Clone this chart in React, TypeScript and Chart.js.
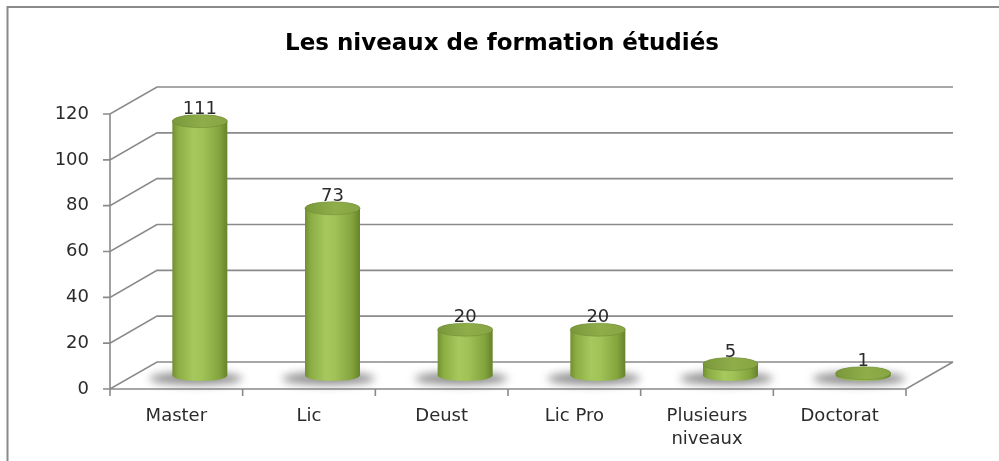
import React, { useEffect, useRef } from 'react';
import { Chart, registerables } from 'chart.js';

Chart.register(...registerables);

const TITLE = 'Les niveaux de formation étudiés';
const categories: (string | string[])[] = ['Master', 'Lic', 'Deust', 'Lic Pro', ['Plusieurs', 'niveaux'], 'Doctorat'];
const values: number[] = [111, 73, 20, 20, 5, 1];
const Y_MIN = 0;
const Y_MAX = 120;
const Y_STEP = 20;

const FONT = "'DejaVu Sans', sans-serif";
const LINE = '#8a8a8a';
const TEXT = '#2b2b2b';
const DX = 47;
const DY = -27;
const RADIUS = 27.5;
const RY_TOP = 6.5;
const RY_BOT = 5.5;

const excel3d = {
  id: 'excel3d',
  beforeDraw(chart: any) {
    const { ctx, width, height } = chart;
    ctx.save();
    ctx.fillStyle = '#ffffff';
    ctx.fillRect(0, 0, width, height);
    ctx.strokeStyle = '#8a8a8a';
    ctx.lineWidth = 2;
    ctx.beginPath();
    ctx.moveTo(7.5, height);
    ctx.lineTo(7.5, 7);
    ctx.lineTo(width, 7);
    ctx.stroke();
    ctx.fillStyle = '#000000';
    ctx.font = 'bold 23px ' + FONT;
    ctx.textAlign = 'center';
    ctx.textBaseline = 'alphabetic';
    ctx.fillText(TITLE, 502, 50);
    ctx.restore();
  },
  beforeDatasetsDraw(chart: any) {
    const { ctx } = chart;
    const xs = chart.scales.x;
    const ys = chart.scales.y;
    const left = xs.left;
    const right = xs.right;
    const bottom = ys.getPixelForValue(Y_MIN);
    const top = ys.getPixelForValue(Y_MAX);
    ctx.save();
    ctx.strokeStyle = LINE;
    ctx.lineWidth = 1.6;
    ctx.beginPath();
    ys.ticks.forEach((t: any) => {
      const py = ys.getPixelForValue(t.value);
      ctx.moveTo(left - 7, py);
      ctx.lineTo(left, py);
      ctx.lineTo(left + DX, py + DY);
      ctx.lineTo(right + DX, py + DY);
    });
    ctx.moveTo(left, top);
    ctx.lineTo(left, bottom);
    ctx.lineTo(right, bottom);
    ctx.lineTo(right + DX, bottom + DY);
    for (let i = 0; i <= categories.length; i++) {
      const px = xs.getPixelForValue(i - 0.5);
      ctx.moveTo(px, bottom);
      ctx.lineTo(px, bottom + 7);
    }
    ctx.stroke();
    ctx.restore();
  },
  afterDatasetsDraw(chart: any) {
    const { ctx } = chart;
    const ys = chart.scales.y;
    const meta = chart.getDatasetMeta(0);
    const base = ys.getPixelForValue(Y_MIN) + DY / 2;
    ctx.save();
    // shadows
    meta.data.forEach((bar: any) => {
      const cx = bar.x + DX / 2;
      ctx.save();
      ctx.filter = 'blur(4px)';
      ctx.fillStyle = 'rgba(70,70,70,0.6)';
      ctx.beginPath();
      ctx.ellipse(cx - 4, base + 3, RADIUS + 19, 6.5, 0, 0, Math.PI * 2);
      ctx.fill();
      ctx.restore();
    });
    // cylinders
    meta.data.forEach((bar: any, i: number) => {
      const cx = bar.x + DX / 2;
      const topY = bar.y + DY / 2;
      const g = ctx.createLinearGradient(cx - RADIUS, 0, cx + RADIUS, 0);
      g.addColorStop(0, '#718f31');
      g.addColorStop(0.1, '#8aac42');
      g.addColorStop(0.38, '#a6c85d');
      g.addColorStop(0.55, '#a0c257');
      g.addColorStop(0.85, '#84a53e');
      g.addColorStop(1, '#66832a');
      ctx.beginPath();
      ctx.moveTo(cx - RADIUS, topY);
      ctx.lineTo(cx - RADIUS, base);
      ctx.ellipse(cx, base, RADIUS, RY_BOT, 0, Math.PI, 0, true);
      ctx.lineTo(cx + RADIUS, topY);
      ctx.ellipse(cx, topY, RADIUS, RY_TOP, 0, 0, -Math.PI, true);
      ctx.closePath();
      ctx.fillStyle = g;
      ctx.fill();
      const tg = ctx.createLinearGradient(cx - RADIUS, 0, cx + RADIUS, 0);
      tg.addColorStop(0, '#7a983b');
      tg.addColorStop(0.55, '#8fae4a');
      tg.addColorStop(1, '#86a543');
      ctx.beginPath();
      ctx.ellipse(cx, topY, RADIUS, RY_TOP, 0, 0, Math.PI * 2);
      ctx.fillStyle = tg;
      ctx.fill();
      ctx.strokeStyle = 'rgba(100,125,45,0.5)';
      ctx.lineWidth = 0.8;
      ctx.stroke();
      ctx.fillStyle = TEXT;
      ctx.font = '18px ' + FONT;
      ctx.textAlign = 'center';
      ctx.textBaseline = 'alphabetic';
      ctx.fillText(String(values[i]), cx, topY - RY_TOP - 1);
    });
    ctx.restore();
  },
};

export default function App() {
  const ref = useRef<HTMLCanvasElement | null>(null);
  useEffect(() => {
    document.body.style.margin = '0';
    const canvas = ref.current;
    if (!canvas) return;
    const chart = new Chart(canvas, {
      type: 'bar',
      data: {
        labels: categories,
        datasets: [
          {
            data: values,
            backgroundColor: 'rgba(0,0,0,0)',
            borderWidth: 0,
          },
        ],
      },
      options: {
        responsive: false,
        animation: false,
        devicePixelRatio: 1,
        layout: { padding: { left: 0, right: 93, top: 114, bottom: 0 } },
        plugins: {
          legend: { display: false },
          title: { display: false },
          tooltip: { enabled: false },
        },
        scales: {
          x: {
            grid: { display: false, drawTicks: false },
            border: { display: false },
            ticks: {
              padding: 16,
              color: TEXT,
              font: { family: FONT, size: 18, lineHeight: 1.28 },
              maxRotation: 0,
              autoSkip: false,
            },
            afterFit(s: any) {
              s.height = 72;
            },
          },
          y: {
            min: Y_MIN,
            max: Y_MAX,
            grid: { display: false, drawTicks: false },
            border: { display: false },
            ticks: {
              stepSize: Y_STEP,
              padding: 21,
              color: TEXT,
              font: { family: FONT, size: 18 },
            },
            afterFit(s: any) {
              s.width = 110;
            },
          },
        },
      },
      plugins: [excel3d],
    } as any);
    return () => chart.destroy();
  }, []);
  return (
    <div style={{ width: 999, height: 461, position: 'relative' }}>
      <canvas ref={ref} width={999} height={461} style={{ display: 'block', width: 999, height: 461 }} />
    </div>
  );
}
